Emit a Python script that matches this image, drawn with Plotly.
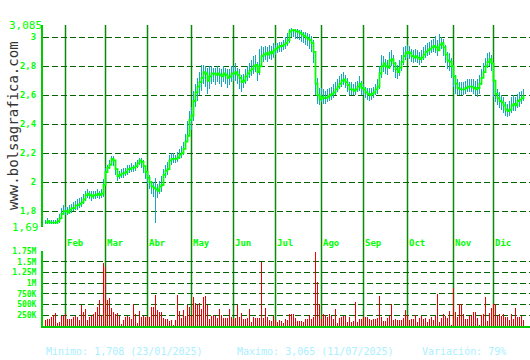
import plotly.graph_objects as go

# ---------------- data ----------------
month_names = ["Ene", "Feb", "Mar", "Abr", "May", "Jun", "Jul", "Ago", "Sep", "Oct", "Nov", "Dic"]
month_days = [10, 20, 21, 22, 21, 21, 23, 21, 22, 23, 20, 16]

close = [
    # Jan
    1.72, 1.73, 1.72, 1.72, 1.72, 1.72, 1.73, 1.75, 1.78, 1.80,
    # Feb
    1.80, 1.79, 1.81, 1.82, 1.82, 1.84, 1.84, 1.85, 1.86, 1.88, 1.91, 1.92, 1.91, 1.90, 1.91, 1.91, 1.92, 1.91, 1.92, 1.98,
    # Mar
    2.07, 2.10, 2.12, 2.16, 2.15, 2.09, 2.04, 2.05, 2.06, 2.06, 2.07, 2.09, 2.09, 2.10, 2.10, 2.11, 2.13, 2.15, 2.14, 2.11, 2.07,
    # Apr
    2.03, 2.00, 1.97, 1.96, 1.95, 1.94, 1.97, 1.98, 2.05, 2.08, 2.09, 2.15, 2.16, 2.16, 2.16, 2.17, 2.19, 2.20, 2.23, 2.28, 2.32, 2.43,
    # May
    2.46, 2.56, 2.62, 2.66, 2.69, 2.72, 2.76, 2.75, 2.70, 2.73, 2.75, 2.75, 2.74, 2.75, 2.74, 2.73, 2.75, 2.74, 2.72, 2.73, 2.75,
    # Jun
    2.75, 2.76, 2.74, 2.72, 2.69, 2.70, 2.73, 2.75, 2.77, 2.78, 2.80, 2.81, 2.76, 2.80, 2.87, 2.88, 2.89, 2.88, 2.90, 2.89, 2.91,
    # Jul
    2.92, 2.93, 2.94, 2.94, 2.95, 2.96, 2.98, 3.04, 3.05, 3.05, 3.04, 3.04, 3.03, 3.02, 3.01, 3.00, 2.99, 2.98, 2.96, 2.90, 2.68, 2.60, 2.57,
    # Aug
    2.59, 2.58, 2.58, 2.59, 2.60, 2.61, 2.62, 2.64, 2.66, 2.68, 2.70, 2.71, 2.69, 2.67, 2.64, 2.64, 2.63, 2.64, 2.66, 2.68, 2.65,
    # Sep
    2.64, 2.62, 2.61, 2.60, 2.61, 2.62, 2.64, 2.66, 2.75, 2.80, 2.82, 2.80, 2.79, 2.84, 2.85, 2.82, 2.78, 2.76, 2.79, 2.83, 2.87, 2.89,
    # Oct
    2.90, 2.89, 2.87, 2.86, 2.87, 2.86, 2.85, 2.86, 2.88, 2.90, 2.91, 2.92, 2.93, 2.94, 2.93, 2.91, 2.95, 2.96, 2.93, 2.88, 2.84, 2.83, 2.80,
    # Nov
    2.73, 2.68, 2.65, 2.64, 2.64, 2.64, 2.65, 2.66, 2.66, 2.66, 2.65, 2.64, 2.65, 2.68, 2.72, 2.76, 2.80, 2.83, 2.85, 2.82,
    # Dec
    2.70, 2.61, 2.58, 2.56, 2.55, 2.53, 2.50, 2.49, 2.50, 2.53, 2.54, 2.53, 2.56, 2.57, 2.58, 2.60,
]

high = [
    1.74, 1.75, 1.74, 1.74, 1.74, 1.74, 1.75, 1.78, 1.82, 1.84,
    1.83, 1.83, 1.84, 1.85, 1.86, 1.87, 1.88, 1.89, 1.90, 1.92, 1.94, 1.95, 1.94, 1.94, 1.94, 1.94, 1.95, 1.94, 1.95, 2.02,
    2.10, 2.12, 2.15, 2.18, 2.18, 2.14, 2.08, 2.08, 2.09, 2.10, 2.10, 2.12, 2.12, 2.13, 2.12, 2.14, 2.15, 2.17, 2.17, 2.15, 2.10,
    2.07, 2.05, 2.01, 2.00, 2.03, 1.99, 2.01, 2.04, 2.09, 2.12, 2.14, 2.19, 2.20, 2.20, 2.19, 2.21, 2.23, 2.25, 2.28, 2.33, 2.42, 2.49,
    2.52, 2.63, 2.68, 2.72, 2.76, 2.81, 2.81, 2.80, 2.79, 2.80, 2.80, 2.79, 2.79, 2.80, 2.79, 2.78, 2.80, 2.79, 2.78, 2.78, 2.80,
    2.80, 2.82, 2.79, 2.78, 2.74, 2.75, 2.78, 2.80, 2.82, 2.84, 2.87, 2.88, 2.83, 2.92, 2.94, 2.93, 2.94, 2.93, 2.95, 2.94, 2.96,
    2.95, 2.96, 2.97, 2.97, 2.98, 3.00, 3.03, 3.06, 3.065, 3.06, 3.06, 3.06, 3.05, 3.05, 3.04, 3.04, 3.03, 3.02, 3.01, 2.98, 2.88, 2.72, 2.65,
    2.65, 2.64, 2.63, 2.64, 2.65, 2.66, 2.68, 2.69, 2.71, 2.73, 2.75, 2.76, 2.74, 2.72, 2.69, 2.69, 2.68, 2.69, 2.70, 2.73, 2.70,
    2.68, 2.66, 2.65, 2.65, 2.65, 2.66, 2.68, 2.71, 2.80, 2.88, 2.87, 2.85, 2.84, 2.90, 2.91, 2.88, 2.83, 2.81, 2.84, 2.88, 2.93, 2.94,
    2.95, 2.94, 2.92, 2.91, 2.92, 2.91, 2.90, 2.91, 2.93, 2.95, 2.96, 2.97, 2.98, 2.99, 3.01, 2.98, 3.02, 3.00, 2.99, 2.95, 2.90, 2.89, 2.86,
    2.80, 2.74, 2.71, 2.69, 2.69, 2.69, 2.70, 2.71, 2.71, 2.71, 2.71, 2.70, 2.71, 2.74, 2.78, 2.82, 2.86, 2.89, 2.90, 2.88,
    2.80, 2.68, 2.64, 2.62, 2.60, 2.59, 2.55, 2.54, 2.56, 2.59, 2.60, 2.59, 2.61, 2.62, 2.63, 2.64,
]

low = [
    1.71, 1.71, 1.71, 1.708, 1.71, 1.71, 1.71, 1.72, 1.75, 1.77,
    1.77, 1.77, 1.78, 1.79, 1.80, 1.81, 1.81, 1.82, 1.83, 1.85, 1.87, 1.89, 1.88, 1.87, 1.88, 1.88, 1.89, 1.88, 1.89, 1.90,
    1.98, 2.06, 2.09, 2.12, 2.11, 2.05, 2.01, 2.02, 2.03, 2.03, 2.04, 2.05, 2.06, 2.07, 2.07, 2.08, 2.10, 2.12, 2.10, 2.06, 2.02,
    1.99, 1.95, 1.92, 1.90, 1.715, 1.89, 1.92, 1.93, 1.99, 2.03, 2.05, 2.10, 2.12, 2.13, 2.13, 2.14, 2.16, 2.17, 2.19, 2.23, 2.28, 2.33,
    2.36, 2.42, 2.52, 2.56, 2.60, 2.63, 2.68, 2.66, 2.61, 2.64, 2.68, 2.69, 2.67, 2.69, 2.68, 2.66, 2.69, 2.68, 2.65, 2.67, 2.69,
    2.70, 2.70, 2.68, 2.64, 2.62, 2.65, 2.68, 2.70, 2.72, 2.73, 2.75, 2.76, 2.70, 2.74, 2.81, 2.83, 2.84, 2.83, 2.85, 2.84, 2.86,
    2.88, 2.89, 2.90, 2.90, 2.91, 2.92, 2.94, 2.96, 3.00, 3.00, 2.99, 2.99, 2.98, 2.97, 2.96, 2.95, 2.94, 2.92, 2.90, 2.82, 2.60, 2.54, 2.53,
    2.55, 2.54, 2.54, 2.55, 2.56, 2.57, 2.58, 2.60, 2.62, 2.64, 2.66, 2.67, 2.65, 2.62, 2.60, 2.60, 2.60, 2.60, 2.62, 2.63, 2.60,
    2.60, 2.58, 2.57, 2.56, 2.57, 2.58, 2.60, 2.61, 2.64, 2.72, 2.76, 2.75, 2.74, 2.78, 2.80, 2.76, 2.72, 2.71, 2.73, 2.77, 2.81, 2.84,
    2.86, 2.85, 2.83, 2.82, 2.83, 2.82, 2.81, 2.82, 2.84, 2.86, 2.87, 2.88, 2.89, 2.90, 2.89, 2.87, 2.91, 2.92, 2.87, 2.82, 2.78, 2.77, 2.72,
    2.66, 2.61, 2.60, 2.60, 2.60, 2.60, 2.61, 2.62, 2.62, 2.62, 2.61, 2.60, 2.59, 2.61, 2.67, 2.72, 2.76, 2.79, 2.80, 2.77,
    2.59, 2.55, 2.53, 2.51, 2.50, 2.48, 2.46, 2.45, 2.46, 2.48, 2.49, 2.49, 2.51, 2.52, 2.54, 2.56,
]

volume_k = [
    136, 152, 160, 212, 250, 311, 76, 99, 235, 243,
    273, 160, 160, 167, 205, 227, 205, 136, 500, 334, 394, 144, 212, 235, 273, 318, 440, 606, 227, 1478,
    1372, 606, 659, 417, 326, 273, 311, 235, 53, 144, 205, 235, 212, 174, 523, 288, 76, 349, 212, 235, 212,
    243, 212, 455, 455, 712, 364, 334, 318, 190, 152, 174, 121, 136, 23, 136, 712, 341, 190, 364, 235, 500, 455,
    235, 667, 546, 485, 531, 387, 682, 697, 500, 174, 235, 258, 227, 190, 387, 265, 190, 190, 190, 387, 212,
    174, 190, 485, 212, 303, 174, 159, 190, 387, 99, 205, 190, 190, 190, 1500, 190, 409, 205, 144, 106, 235,
    144, 83, 144, 121, 76, 159, 144, 288, 273, 273, 190, 114, 114, 114, 99, 174, 174, 258, 174, 212, 1728, 1023, 523,
    152, 288, 265, 212, 288, 235, 174, 387, 76, 190, 212, 235, 235, 99, 212, 99, 121, 568, 99, 174, 174,
    212, 212, 212, 159, 136, 152, 152, 190, 705, 212, 114, 114, 190, 235, 515, 136, 174, 136, 136, 136, 190, 364,
    250, 136, 152, 152, 265, 91, 197, 235, 152, 190, 99, 159, 212, 144, 235, 743, 83, 190, 288, 235, 190, 341, 23,
    879, 318, 212, 515, 515, 288, 159, 159, 235, 235, 318, 318, 190, 23, 250, 273, 682, 114, 311, 417,
    515, 515, 235, 273, 235, 273, 212, 212, 136, 273, 159, 417, 212, 212, 235, 136,
]

price_ticks = [1.8, 2.0, 2.2, 2.4, 2.6, 2.8, 3.0]
price_tick_text = ["1,8", "2", "2,2", "2,4", "2,6", "2,8", "3"]
price_min, price_max = 1.69, 3.085
vol_ticks = [250000, 500000, 750000, 1000000, 1250000, 1500000, 1750000]
vol_tick_text = ["250K", "500K", "750K", "1M", "1.25M", "1.5M", "1.75M"]

footer_min = "Minimo: 1,708 (23/01/2025)"
footer_max = "Maximo: 3,065 (11/07/2025)"
footer_var = "Variación: 79%"
watermark = "www.bolsagrafica.com"

# ---------------- derived ----------------
n = len(close)
idx = list(range(n))
volume = [v * 1000 for v in volume_k]
hl_range = [h - l for h, l in zip(high, low)]
month_start = []
acc = 0
for d in month_days:
    month_start.append(acc)
    acc += d

GREEN = "#00ff00"
GRID = "#006400"
VLINE = "#0a8a0a"
TEAL = "#14a8bc"
RED = "#ee0000"
MONO = "DejaVu Sans Mono"

fig = go.Figure()
fig.add_trace(go.Bar(
    x=idx, y=hl_range, base=low, width=0.5,
    marker=dict(color=TEAL, line=dict(width=0)),
    xaxis="x", yaxis="y", showlegend=False,
))
fig.add_trace(go.Scatter(
    x=idx, y=close, mode="lines", line=dict(color=GREEN, width=1.8, shape="hv"),
    xaxis="x", yaxis="y", showlegend=False,
))
fig.add_trace(go.Bar(
    x=idx, y=volume, width=0.5,
    marker=dict(color=RED, line=dict(width=0)),
    xaxis="x2", yaxis="y2", showlegend=False,
))

xr = [-1.25, 242.25]
ax_common = dict(range=xr, showgrid=False, zeroline=False, showticklabels=False, ticks="", fixedrange=True)

fig.update_layout(
    width=530, height=360,
    margin=dict(l=43, r=0, t=25, b=34),
    paper_bgcolor="white", plot_bgcolor="white",
    barmode="overlay", bargap=0,
    xaxis=dict(domain=[0, 1], anchor="y", **ax_common),
    xaxis2=dict(domain=[0, 1], anchor="y2", showline=True, linecolor="#00cc00", linewidth=2, **ax_common),
    yaxis=dict(
        domain=[0.3289, 1], range=[price_min, price_max],
        tickvals=[price_min] + price_ticks + [price_max],
        ticktext=[""] + price_tick_text + [""],
        tickfont=dict(family=MONO, size=9, color=GREEN, weight="bold"),
        showgrid=True, gridcolor=GRID, griddash="6px,3px", gridwidth=1,
        showline=True, linecolor="#00cc00", linewidth=2,
        zeroline=False, ticks="", ticklabelstandoff=3,
    ),
    yaxis2=dict(
        domain=[0, 0.2492], range=[0, 1750000],
        tickvals=vol_ticks, ticktext=vol_tick_text,
        tickfont=dict(family=MONO, size=8, color=GREEN, weight="bold"),
        showgrid=True, gridcolor=GRID, griddash="6px,3px", gridwidth=1,
        showline=True, linecolor="#00cc00", linewidth=2,
        zeroline=False, ticks="", ticklabelstandoff=3,
    ),
)

shapes = []
annotations = []
for name, s in zip(month_names[1:], month_start[1:]):
    shapes.append(dict(type="line", xref="x", yref="paper", x0=s, x1=s, y0=0, y1=1,
                       line=dict(color=VLINE, width=1.5), layer="below"))
    annotations.append(dict(x=s, y=(326 - 243) / 301, xref="x", yref="paper", text=name,
                            showarrow=False, xanchor="left", yanchor="middle", xshift=-1,
                            font=dict(family=MONO, size=9, color=GREEN, weight="bold")))

annotations.append(dict(x=0, y=price_max, xref="paper", yref="y", text="3,085", showarrow=False,
                        xanchor="right", yanchor="middle", xshift=1,
                        font=dict(family=MONO, size=11, color=GREEN)))
annotations.append(dict(x=0, y=price_min, xref="paper", yref="y", text="1,69", showarrow=False,
                        xanchor="right", yanchor="middle", xshift=-2,
                        font=dict(family=MONO, size=11, color=GREEN)))
annotations.append(dict(x=0, y=(326 - 126) / 301, xref="paper", yref="paper", text=watermark,
                        showarrow=False, textangle=-90, xanchor="center", yanchor="middle", xshift=-30,
                        font=dict(family=MONO, size=14, color="#333333")))
FOOT = "#aaf0ff"
for txt, xp in [(footer_min, 44), (footer_max, 235), (footer_var, 420)]:
    annotations.append(dict(x=(xp - 43) / 487, y=-(352 - 326) / 301, xref="paper", yref="paper",
                            text=txt, showarrow=False, xanchor="left", yanchor="middle",
                            font=dict(family=MONO, size=10, color=FOOT)))

fig.update_layout(shapes=shapes, annotations=annotations)
fig.write_html("out.html")
